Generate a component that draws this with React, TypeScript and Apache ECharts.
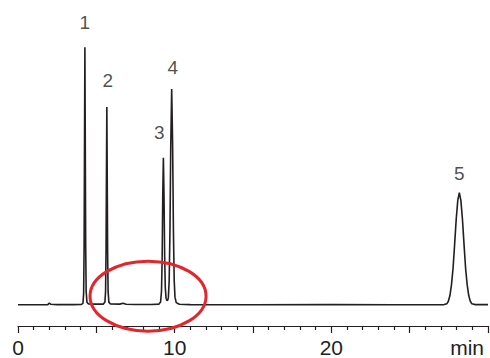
import React, { useEffect, useRef } from "react";
import * as echarts from "echarts";

// Chromatogram trace: [retention time (min), detector signal (a.u.)]
const signal: [number, number][] = [
  [0, 0.3], [1.0, 0.3], [1.9, 0.5], [2.0, 2.0], [2.1, 0.8], [2.5, 0.5], [3.5, 0.5],
  [4.05, 0.6], [4.15, 2], [4.19, 12], [4.22, 60], [4.245, 160], [4.27, 259], [4.295, 160],
  [4.32, 60], [4.35, 14], [4.4, 3], [4.5, 1.2], [5.0, 1.0],
  [5.45, 1.0], [5.55, 3], [5.59, 14], [5.62, 55], [5.645, 130], [5.67, 199], [5.695, 130],
  [5.72, 55], [5.75, 14], [5.8, 3], [5.9, 1.2], [6.5, 1.0], [6.7, 1.8], [6.9, 0.8],
  [7.5, 0.6], [8.5, 0.6], [9.0, 1.0],
  [9.1, 3], [9.16, 14], [9.2, 45], [9.24, 110], [9.28, 148], [9.32, 110], [9.36, 50],
  [9.4, 18], [9.45, 7], [9.5, 4.5], [9.56, 5], [9.6, 8], [9.65, 25], [9.7, 75],
  [9.75, 160], [9.81, 217], [9.87, 160], [9.92, 75], [9.97, 25], [10.02, 8], [10.1, 2.5],
  [10.3, 0.8], [11, 0.5], [15, 0.4], [20, 0.5], [24, 0.4], [27.2, 0.5],
  [27.37, 1.3], [27.47, 3.9], [27.57, 9.6], [27.67, 20.5], [27.77, 37], [27.87, 61],
  [27.97, 86], [28.07, 105], [28.17, 113], [28.27, 105], [28.37, 86], [28.47, 61],
  [28.57, 37], [28.67, 20.5], [28.77, 9.6], [28.87, 3.9], [28.97, 1.3], [29.2, 0.5], [30, 0.5],
];

// Peak annotations
const peakNames = ["1", "2", "3", "4", "5"];
const peakTimes = [4.27, 5.67, 9.28, 9.81, 28.17];
const peakHeights = [259, 199, 148, 217, 113];

// Axis
const xMin = 0;
const xMax = 30;
const xTickLabels: Record<number, string> = { 0: "0", 10: "10", 20: "20", 30: "{m|min}" };

// Highlighted region (ellipse centre in data units)
const highlightCenter: [number, number] = [8.3, 9];

const INK = "#231f20";
const FONT = "Liberation Sans, Arial, sans-serif";

export default function App() {
  const ref = useRef<HTMLDivElement>(null);

  useEffect(() => {
    if (!ref.current) return;
    const chart = echarts.init(ref.current, null, { renderer: "svg" });
    const labelOffsets: [number, number][] = [
      [0, -7], [1, -9], [-4, -8], [1, -4], [0, -2],
    ];
    chart.setOption({
      animation: false,
      grid: { left: 18, right: 2, top: 0, bottom: 31 },
      xAxis: {
        type: "value",
        min: xMin,
        max: xMax,
        interval: 5,
        axisLine: { show: true, onZero: false, lineStyle: { color: INK, width: 1.2 } },
        axisTick: { show: true, length: 7, lineStyle: { color: INK, width: 1.2 } },
        minorTick: { show: true, splitNumber: 5, length: 4, lineStyle: { color: INK, width: 1.2 } },
        splitLine: { show: false },
        axisLabel: {
          show: true,
          margin: 11,
          fontFamily: FONT,
          fontSize: 21,
          color: INK,
          showMinLabel: true,
          showMaxLabel: true,
          alignMaxLabel: "right",
          formatter: (v: number) => xTickLabels[v] ?? "",
          rich: {
            m: { fontFamily: FONT, fontSize: 21, color: INK, padding: [0, 4, 0, 0] },
          },
        },
      },
      yAxis: { type: "value", min: -21, max: 306.5, show: false },
      series: [
        {
          type: "line",
          data: signal,
          showSymbol: false,
          symbol: "none",
          lineStyle: { color: INK, width: 1.6 },
          clip: false,
          z: 3,
        },
        {
          type: "scatter",
          symbolSize: 0,
          itemStyle: { color: INK },
          data: peakTimes.map((t, i) => ({
            value: [t, peakHeights[i]],
            name: peakNames[i],
            label: { offset: labelOffsets[i], color: INK },
          })),
          label: {
            show: true,
            position: "top",
            distance: 8,
            formatter: (p: any) => p.name,
            fontFamily: FONT,
            fontSize: 19,
            color: INK,
            textBorderWidth: 0,
          },
          emphasis: { disabled: true },
          z: 4,
        },
      ],
    });

    const c = chart.convertToPixel({ gridIndex: 0 }, highlightCenter) as number[];
    chart.setOption({
      graphic: [
        {
          type: "ellipse",
          shape: { cx: c[0], cy: c[1], rx: 58, ry: 35 },
          style: { fill: "none", stroke: "#e3262b", lineWidth: 3 },
          z: 10,
        },
      ],
    });

    return () => chart.dispose();
  }, []);

  return (
    <div
      ref={ref}
      style={{ position: "fixed", left: 0, top: 0, width: 490, height: 358, background: "#fff" }}
    />
  );
}
